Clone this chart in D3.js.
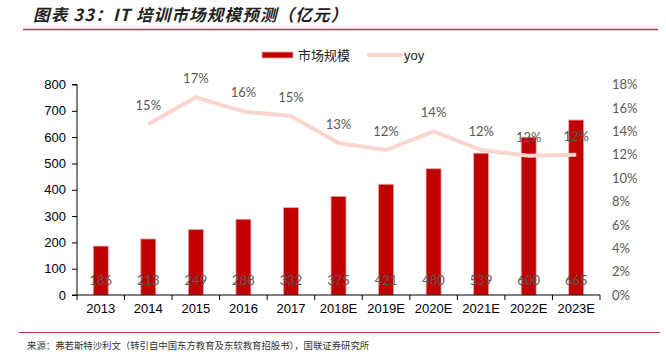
<!DOCTYPE html>
<html>
<head>
<meta charset="utf-8">
<script src="https://cdn.jsdelivr.net/npm/d3@7/dist/d3.min.js"></script>
<style>
  body { margin: 0; background: #fff; }
  svg { display: block; }
</style>
</head>
<body>
<svg id="chart" width="666" height="362"></svg>
<script>
// data
const years = ["2013", "2014", "2015", "2016", "2017", "2018E", "2019E", "2020E", "2021E", "2022E", "2023E"];
const marketSize = [186, 213, 249, 288, 332, 375, 421, 480, 539, 600, 665];
const yoy = [null, 14.6, 16.9, 15.7, 15.3, 13.0, 12.4, 14.0, 12.4, 11.9, 12.0];
const yoyLabels = ["", "15%", "17%", "16%", "15%", "13%", "12%", "14%", "12%", "12%", "12%"];
const leftTicks = [0, 100, 200, 300, 400, 500, 600, 700, 800];
const rightTicks = [0, 2, 4, 6, 8, 10, 12, 14, 16, 18];

const svg = d3.select("#chart");
const barColor = "#C00000";
const lineColor = "#F9D5CE";
const grey = "#595959";
const sans = "'Liberation Sans', Arial, sans-serif";
const cjk = "'Noto Sans CJK SC', sans-serif";
const calib = "Lato, 'Open Sans', sans-serif";

const x = d3.scaleBand().domain(years).range([77, 600]).padding(0);
const yL = d3.scaleLinear().domain([0, 800]).range([295, 84.5]);
const yR = d3.scaleLinear().domain([0, 18]).range([295, 84.5]);

// title + rules
svg.append("text")
    .attr("x", 33).attr("y", 21)
    .attr("font-family", cjk).attr("font-size", 16.5)
    .attr("font-style", "italic").attr("font-weight", 700)
    .attr("letter-spacing", 1.2)
    .attr("fill", "#222")
    .text("图表 33：IT 培训市场规模预测（亿元）");
svg.append("line").attr("x1", 23).attr("x2", 658).attr("y1", 29.5).attr("y2", 29.5)
    .attr("stroke", "#C2304F").attr("stroke-width", 1.5);
svg.append("line").attr("x1", 19).attr("x2", 660).attr("y1", 332.5).attr("y2", 332.5)
    .attr("stroke", "#C2304F").attr("stroke-width", 1.2);
svg.append("text")
    .attr("x", 27).attr("y", 349)
    .attr("font-family", cjk).attr("font-size", 9.4)
    .attr("fill", "#333")
    .text("来源：弗若斯特沙利文（转引自中国东方教育及东软教育招股书），国联证券研究所");

// bars
const barW = 15;
svg.append("g").selectAll("rect")
    .data(marketSize)
    .join("rect")
    .attr("x", (d, i) => x(years[i]) + x.bandwidth() / 2 - barW / 2)
    .attr("width", barW)
    .attr("y", d => yL(d))
    .attr("height", d => yL(0) - yL(d))
    .attr("fill", barColor)
    .attr("stroke", "#EBAAAA").attr("stroke-width", 0.8);

// left axis
const gl = svg.append("g").attr("transform", "translate(77,0)")
    .call(d3.axisLeft(yL).tickValues(leftTicks).tickSize(5).tickPadding(6));
gl.select(".domain").attr("stroke", "#000").attr("d", `M-5,${yL(0)}H0V${yL(800)}H-5`);
gl.selectAll(".tick line").attr("stroke", "#000");
gl.selectAll("text").attr("font-family", sans).attr("font-size", 13).attr("fill", "#000");

// right axis (labels only)
const gr = svg.append("g").attr("transform", "translate(612,0)")
    .call(d3.axisRight(yR).tickValues(rightTicks).tickSize(0).tickPadding(0).tickFormat(d => d + "%"));
gr.select(".domain").remove();
gr.selectAll("text").attr("font-family", calib).attr("font-size", 13).attr("fill", grey);

// x axis
const gx = svg.append("g").attr("transform", `translate(0,${yL(0)})`)
    .call(d3.axisBottom(x).tickSize(0).tickPadding(9));
gx.select(".domain").attr("stroke", "#000").attr("d", "M77,0H600");
gx.selectAll("text").attr("font-family", sans).attr("font-size", 13).attr("fill", "#000");
svg.append("g").selectAll("line")
    .data(years.concat([null]))
    .join("line")
    .attr("x1", (d, i) => 77 + i * x.bandwidth()).attr("x2", (d, i) => 77 + i * x.bandwidth())
    .attr("y1", yL(0)).attr("y2", yL(0) + 5)
    .attr("stroke", "#000");

// bar value labels
svg.append("g").selectAll("text")
    .data(marketSize)
    .join("text")
    .attr("x", (d, i) => x(years[i]) + x.bandwidth() / 2)
    .attr("y", 285)
    .attr("text-anchor", "middle")
    .attr("font-family", calib).attr("font-size", 13)
    .attr("fill", grey)
    .text(d => d);

// yoy line
const pts = yoy.map((v, i) => ({ year: years[i], v, label: yoyLabels[i] })).filter(d => d.v != null);
svg.append("path")
    .datum(pts)
    .attr("fill", "none")
    .attr("stroke", lineColor).attr("stroke-width", 4)
    .attr("stroke-linejoin", "round")
    .attr("d", d3.line().x(d => x(d.year) + x.bandwidth() / 2).y(d => yR(d.v)));
svg.append("g").selectAll("text")
    .data(pts)
    .join("text")
    .attr("x", d => x(d.year) + x.bandwidth() / 2)
    .attr("y", d => yR(d.v) - 14)
    .attr("text-anchor", "middle")
    .attr("font-family", calib).attr("font-size", 13)
    .attr("fill", grey)
    .text(d => d.label);

// legend
svg.append("rect").attr("x", 262).attr("y", 52).attr("width", 31).attr("height", 6)
    .attr("fill", barColor).attr("stroke", "#EBAAAA").attr("stroke-width", 0.8);
svg.append("text").attr("x", 298).attr("y", 60)
    .attr("font-family", cjk).attr("font-size", 13).attr("fill", "#222")
    .text("市场规模");
svg.append("line").attr("x1", 369).attr("x2", 401).attr("y1", 55).attr("y2", 55)
    .attr("stroke", lineColor).attr("stroke-width", 4).attr("stroke-linecap", "round");
svg.append("text").attr("x", 404).attr("y", 60)
    .attr("font-family", sans).attr("font-size", 13).attr("fill", "#222")
    .text("yoy");
</script>
</body>
</html>
